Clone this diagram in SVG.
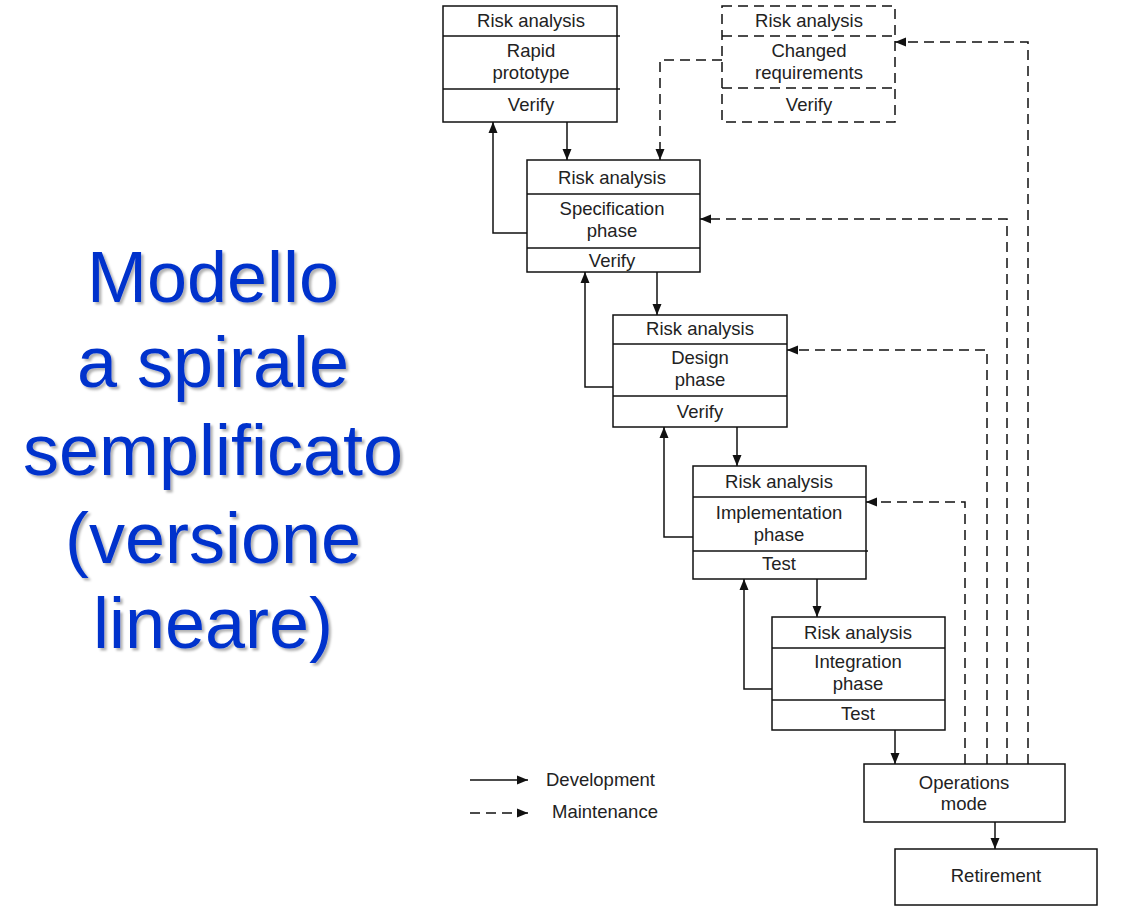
<svg xmlns="http://www.w3.org/2000/svg" width="1123" height="911" viewBox="0 0 1123 911">
  <defs>
    <marker id="arrow" markerUnits="userSpaceOnUse" markerWidth="12" markerHeight="10" refX="11" refY="5" orient="auto">
      <path d="M0,0.5 L11,5 L0,9.5 z" fill="#111"/>
    </marker>
    <filter id="shadow" x="-10%" y="-10%" width="120%" height="130%">
      <feDropShadow dx="2.5" dy="2.5" stdDeviation="1.2" flood-color="#000" flood-opacity="0.3"/>
    </filter>
  </defs>
  <style>
    .box { fill: #fff; stroke: #111; stroke-width: 1.5; }
    .dbox { fill: #fff; stroke: #111; stroke-width: 1.5; stroke-dasharray: 10 6; }
    .div { stroke: #111; stroke-width: 1.5; }
    .ddiv { stroke: #111; stroke-width: 1.5; stroke-dasharray: 10 6; }
    .lbl { font-family: "Liberation Sans", Arial, sans-serif; font-size: 18.5px; fill: #222; text-anchor: middle; }
    .leg { font-family: "Liberation Sans", Arial, sans-serif; font-size: 18.5px; fill: #222; }
    .dev { fill: none; stroke: #111; stroke-width: 1.5; marker-end: url(#arrow); }
    .mnt { fill: none; stroke: #111; stroke-width: 1.5; stroke-dasharray: 10 6; marker-end: url(#arrow); }
    .title { font-family: "Liberation Sans", Arial, sans-serif; font-size: 72px; fill: #0033cc; text-anchor: middle; }
  </style>
  <rect width="1123" height="911" fill="#fff"/>

  <!-- title -->
  <g id="title" filter="url(#shadow)">
    <text class="title" x="213" y="302">Modello</text>
    <text class="title" x="213" y="387">a spirale</text>
    <text class="title" x="213" y="475">semplificato</text>
    <text class="title" x="213" y="563">(versione</text>
    <text class="title" x="213" y="648">lineare)</text>
  </g>

  <!-- connectors -->
  <g id="connectors">
    <!-- development (forward) -->
    <path class="dev" d="M567,122 V160"/>
    <path class="dev" d="M657,272 V315"/>
    <path class="dev" d="M737,427 V466"/>
    <path class="dev" d="M817,579 V617"/>
    <path class="dev" d="M895,730 V764"/>
    <path class="dev" d="M995,822 V849"/>
    <!-- development (back to verify) -->
    <path class="dev" d="M527,233 H493 V122"/>
    <path class="dev" d="M613,387 H585 V272"/>
    <path class="dev" d="M693,537 H664 V427"/>
    <path class="dev" d="M772,689 H744 V579"/>
    <!-- maintenance -->
    <path class="mnt" d="M722,60 H660 V160"/>
    <path class="mnt" d="M965,764 V502 H866"/>
    <path class="mnt" d="M987,764 V350 H787"/>
    <path class="mnt" d="M1007,764 V219 H700"/>
    <path class="mnt" d="M1028,764 V42 H895"/>
  </g>

  <!-- Rapid prototype -->
  <g id="rapid-prototype">
    <rect class="box" x="443" y="6" width="174" height="116"/>
    <line class="div" x1="443" y1="36" x2="620" y2="36"/>
    <line class="div" x1="443" y1="89" x2="620" y2="89"/>
    <text class="lbl" x="531" y="27">Risk analysis</text>
    <text class="lbl" x="531" y="57">Rapid</text>
    <text class="lbl" x="531" y="79">prototype</text>
    <text class="lbl" x="531" y="111">Verify</text>
  </g>

  <!-- Changed requirements -->
  <g id="changed-requirements">
    <rect class="dbox" x="722" y="6" width="173" height="116"/>
    <line class="ddiv" x1="722" y1="36" x2="895" y2="36"/>
    <line class="ddiv" x1="722" y1="88" x2="895" y2="88"/>
    <text class="lbl" x="809" y="27">Risk analysis</text>
    <text class="lbl" x="809" y="57">Changed</text>
    <text class="lbl" x="809" y="79">requirements</text>
    <text class="lbl" x="809" y="111">Verify</text>
  </g>

  <!-- Specification phase -->
  <g id="specification-phase">
    <rect class="box" x="527" y="160" width="173" height="112"/>
    <line class="div" x1="527" y1="194" x2="700" y2="194"/>
    <line class="div" x1="527" y1="248" x2="700" y2="248"/>
    <text class="lbl" x="612" y="184">Risk analysis</text>
    <text class="lbl" x="612" y="215">Specification</text>
    <text class="lbl" x="612" y="237">phase</text>
    <text class="lbl" x="612" y="267">Verify</text>
  </g>

  <!-- Design phase -->
  <g id="design-phase">
    <rect class="box" x="613" y="315" width="174" height="112"/>
    <line class="div" x1="613" y1="344" x2="787" y2="344"/>
    <line class="div" x1="613" y1="396" x2="787" y2="396"/>
    <text class="lbl" x="700" y="335">Risk analysis</text>
    <text class="lbl" x="700" y="364">Design</text>
    <text class="lbl" x="700" y="386">phase</text>
    <text class="lbl" x="700" y="418">Verify</text>
  </g>

  <!-- Implementation phase -->
  <g id="implementation-phase">
    <rect class="box" x="693" y="466" width="173" height="113"/>
    <line class="div" x1="693" y1="497" x2="866" y2="497"/>
    <line class="div" x1="693" y1="551" x2="868" y2="551"/>
    <text class="lbl" x="779" y="488">Risk analysis</text>
    <text class="lbl" x="779" y="519">Implementation</text>
    <text class="lbl" x="779" y="541">phase</text>
    <text class="lbl" x="779" y="570">Test</text>
  </g>

  <!-- Integration phase -->
  <g id="integration-phase">
    <rect class="box" x="772" y="617" width="173" height="113"/>
    <line class="div" x1="772" y1="648" x2="945" y2="648"/>
    <line class="div" x1="772" y1="700" x2="945" y2="700"/>
    <text class="lbl" x="858" y="639">Risk analysis</text>
    <text class="lbl" x="858" y="668">Integration</text>
    <text class="lbl" x="858" y="690">phase</text>
    <text class="lbl" x="858" y="720">Test</text>
  </g>

  <!-- Operations mode -->
  <g id="operations-mode">
    <rect class="box" x="864" y="764" width="201" height="58"/>
    <text class="lbl" x="964" y="789">Operations</text>
    <text class="lbl" x="964" y="810">mode</text>
  </g>

  <!-- Retirement -->
  <g id="retirement">
    <rect class="box" x="895" y="849" width="202" height="56"/>
    <text class="lbl" x="996" y="882">Retirement</text>
  </g>

  <!-- legend -->
  <g id="legend">
    <path class="dev" d="M470,780 H528"/>
    <text class="leg" x="546" y="786">Development</text>
    <path class="mnt" d="M470,813 H528"/>
    <text class="leg" x="552" y="818">Maintenance</text>
  </g>
</svg>
